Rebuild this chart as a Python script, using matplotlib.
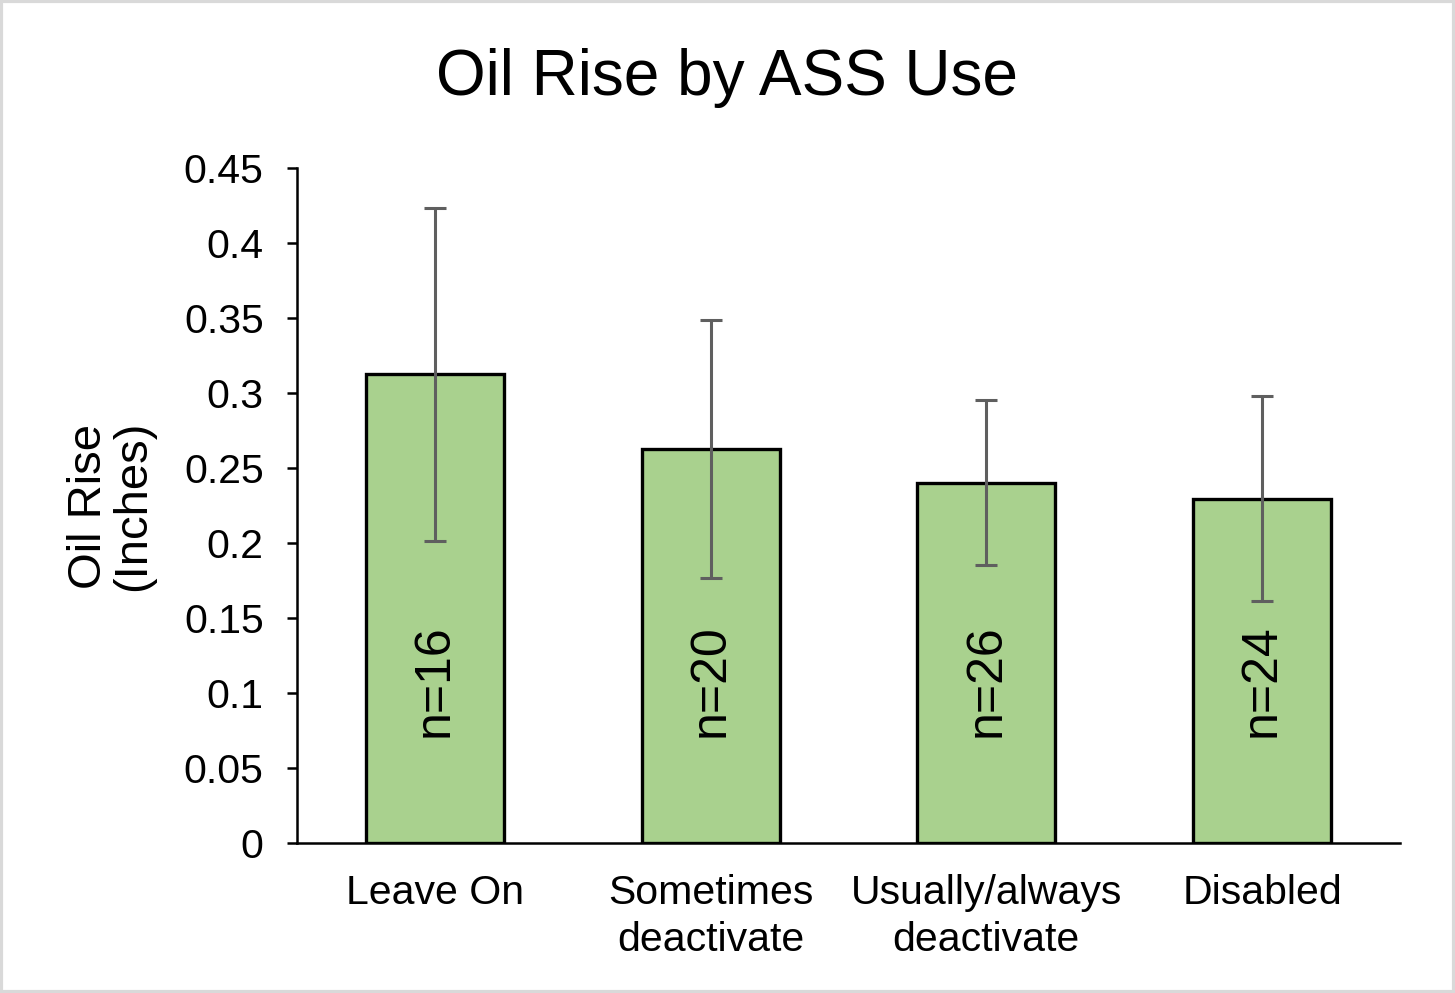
import matplotlib
matplotlib.use('Agg')
import matplotlib.pyplot as plt
from matplotlib.patches import Rectangle

# data
categories = ['Leave On', 'Sometimes\ndeactivate', 'Usually/always\ndeactivate', 'Disabled']
oil_rise = [0.3125, 0.2625, 0.240, 0.2295]
err = [0.111, 0.086, 0.055, 0.0685]
counts = ['n=16', 'n=20', 'n=26', 'n=24']
yticks = [0, 0.05, 0.1, 0.15, 0.2, 0.25, 0.3, 0.35, 0.4, 0.45]

plt.rcParams['font.family'] = ['Liberation Sans', 'DejaVu Sans']

fig = plt.figure(figsize=(14.55, 9.93), dpi=100)
ax = fig.add_axes([0.2041, 0.1511, 0.7581, 0.6797])

x = list(range(len(categories)))
ax.bar(x, oil_rise, width=0.5, color='#a9d18e', edgecolor='black', linewidth=2.4, zorder=2)
ax.errorbar(x, oil_rise, yerr=err, fmt='none', ecolor='#5f5f5f', elinewidth=2.2,
            capsize=8, capthick=2.2, zorder=3)

for xi, label in zip(x, counts):
    ax.text(xi, 0.108, label, rotation=90, ha='center', va='center', fontsize=36, zorder=4)

ax.set_xlim(-0.5, 3.5)
ax.set_ylim(0, 0.45)
ax.set_yticks(yticks)
ax.set_yticklabels(['0' if t == 0 else ('%g' % t) for t in yticks], fontsize=29.5)
ax.set_xticks(x)
ax.set_xticklabels(categories, fontsize=29.5, linespacing=1.3)
ax.tick_params(axis='x', length=0, pad=22)
ax.tick_params(axis='y', length=7, width=1.8, pad=17)

for side in ['top', 'right']:
    ax.spines[side].set_visible(False)
ax.spines['left'].set_linewidth(1.8)
ax.spines['bottom'].set_linewidth(1.8)

fig.text(0.0763, 0.4904, 'Oil Rise\n(Inches)', rotation=90, ha='center', va='center',
         fontsize=34, linespacing=1.0)

fig.text(0.5, 0.921, 'Oil Rise by ASS Use', ha='center', va='center', fontsize=46)

# light gray frame around the figure
fig.patches.append(Rectangle((0.001, 0.001), 0.998, 0.998, transform=fig.transFigure,
                             fill=False, edgecolor='#d9d9d9', linewidth=3))

fig.savefig('out.png', dpi=100)
